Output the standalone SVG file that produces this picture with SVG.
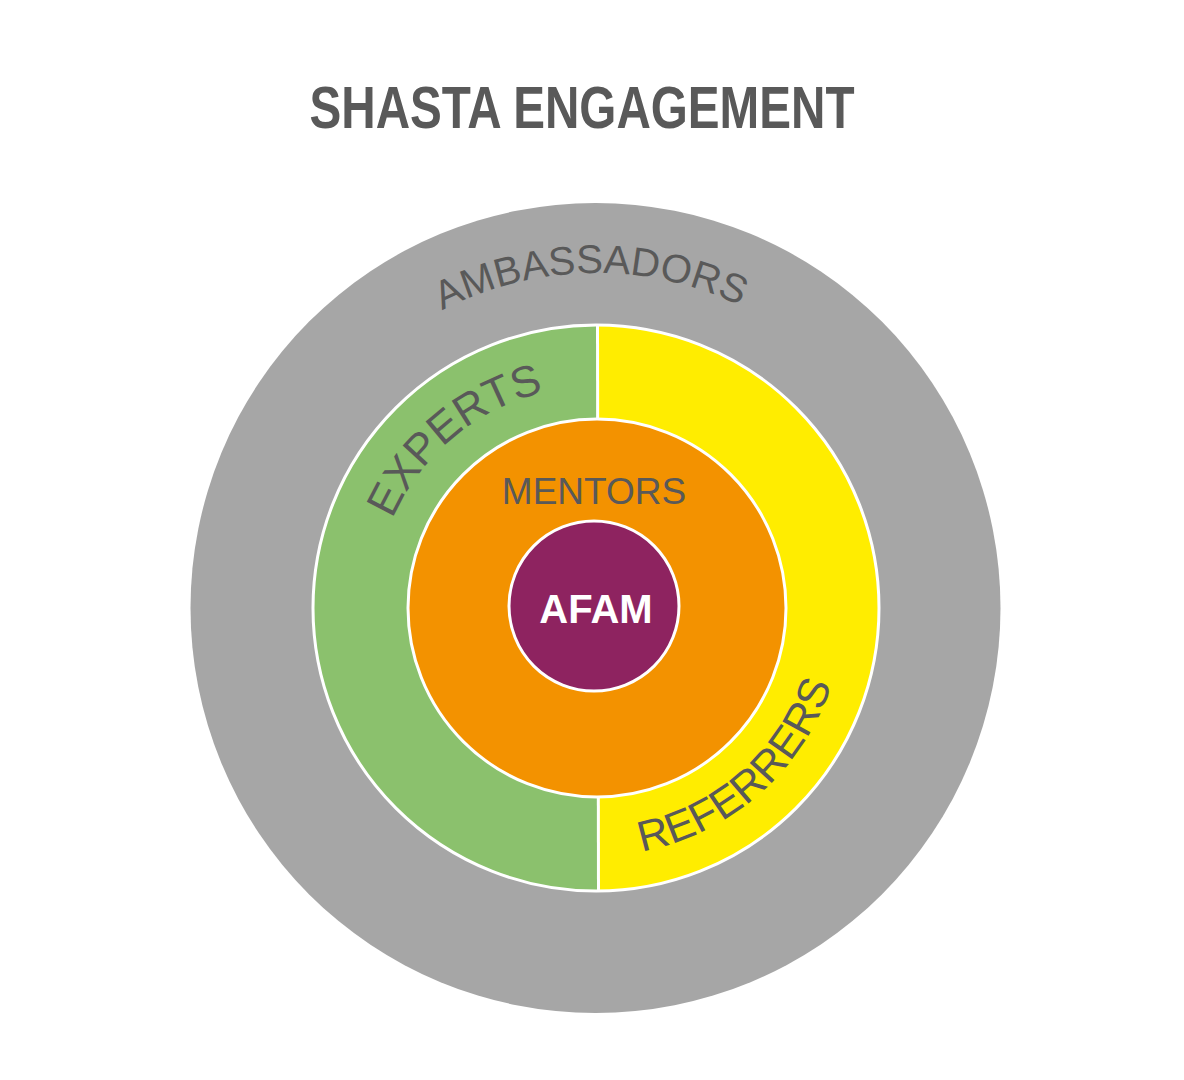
<svg xmlns="http://www.w3.org/2000/svg" xmlns:xlink="http://www.w3.org/1999/xlink" width="1184" height="1080" viewBox="0 0 1184 1080">
  <style>
    .lbl { font-family: "Liberation Sans", Arial, sans-serif; fill: #595959; }
    .ring { stroke: #ffffff; stroke-width: 3; }
  </style>
  <defs>
    <path id="arcAmb" d="M 261,608 A 335 335 0 0 1 931,608"/>
    <path id="arcExp" d="M 425.9,750.7 A 222 222 0 0 1 766.1,465.3"/>
    <path id="arcRef" d="M 408.2,773.0 A 250 250 0 0 0 783.8,443.0"/>
  </defs>
  <rect width="1184" height="1080" fill="#ffffff"/>
  <text id="title" class="lbl" x="582" y="128" text-anchor="middle" font-size="60" font-weight="bold" textLength="545" lengthAdjust="spacingAndGlyphs">SHASTA ENGAGEMENT</text>
  <g id="ambassadors">
    <circle cx="595.5" cy="608" r="405" fill="#A6A6A6"/>
    <text class="lbl" font-size="40"><textPath xlink:href="#arcAmb" href="#arcAmb" startOffset="49.5%" text-anchor="middle">AMBASSADORS</textPath></text>
  </g>
  <g id="experts-referrers">
    <path d="M 597,325 A 283 283 0 0 0 597,891 Z" fill="#8BC16D"/>
    <path d="M 597,325 A 283 283 0 0 1 597,891 Z" fill="#FFED00"/>
    <line x1="597.5" y1="325" x2="598.5" y2="891" stroke="#ffffff" stroke-width="3"/>
    <circle cx="596" cy="608" r="283" fill="none" class="ring"/>
  </g>
  <g id="experts">
    <text class="lbl" font-size="44"><textPath xlink:href="#arcExp" href="#arcExp" startOffset="50%" text-anchor="middle">EXPERTS</textPath></text>
  </g>
  <g id="referrers">
    <text class="lbl" font-size="43"><textPath xlink:href="#arcRef" href="#arcRef" startOffset="50%" text-anchor="middle">REFERRERS</textPath></text>
  </g>
  <g id="mentors">
    <circle cx="597" cy="608" r="189" fill="#F39200" class="ring"/>
    <text class="lbl" x="594" y="504" text-anchor="middle" font-size="37">MENTORS</text>
  </g>
  <g id="afam">
    <circle cx="594" cy="606" r="85" fill="#8E2360" class="ring"/>
    <text x="596" y="623" text-anchor="middle" font-family="Liberation Sans, Arial, sans-serif" font-size="40" font-weight="bold" fill="#ffffff">AFAM</text>
  </g>
  <g id="connectors"/>
</svg>
